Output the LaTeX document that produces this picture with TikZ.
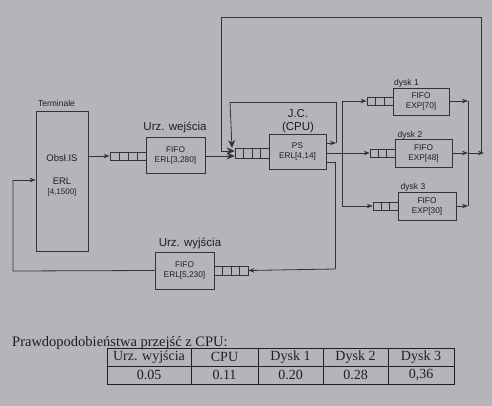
\documentclass[tikz,border=0pt]{standalone}
\usepackage{fontspec}
\setmainfont{Liberation Serif}
\setsansfont{Liberation Sans}
\usetikzlibrary{arrows.meta,calc}
\definecolor{bg}{RGB}{180,181,187}
\definecolor{lc}{RGB}{50,50,57}
\definecolor{tc}{RGB}{30,30,36}
\begin{document}
\begin{tikzpicture}[x=1pt,y=-1pt,
  box/.style={draw=lc, line width=0.8pt, fill=bg, inner sep=0pt, align=center,
    font=\sffamily\fontsize{8.3}{10}\selectfont, text=tc},
  lbl/.style={font=\sffamily\fontsize{11.5}{12.5}\selectfont, text=tc, inner sep=0pt, align=center},
  slbl/.style={font=\sffamily\fontsize{8.5}{10}\selectfont, text=tc, inner sep=0pt},
  ln/.style={draw=lc, line width=0.8pt},
  arr/.style={draw=lc, line width=0.8pt, -{Stealth[length=6pt,width=4.5pt]}},
  bigarr/.style={draw=lc, line width=0.8pt, -{Stealth[length=8pt,width=7pt]}},
  qfour/.style={draw=lc, line width=0.7pt, fill=bg, inner sep=0pt,
    path picture={\foreach \i in {0.25,0.5,0.75}{\draw[lc, line width=0.7pt]
      ($(path picture bounding box.south west)!\i!(path picture bounding box.south east)$) --
      ($(path picture bounding box.north west)!\i!(path picture bounding box.north east)$);}}},
  qthree/.style={draw=lc, line width=0.7pt, fill=bg, inner sep=0pt,
    path picture={\foreach \i in {0.3333,0.6667}{\draw[lc, line width=0.7pt]
      ($(path picture bounding box.south west)!\i!(path picture bounding box.south east)$) --
      ($(path picture bounding box.north west)!\i!(path picture bounding box.north east)$);}}},
  cell/.style={draw=tc, line width=0.8pt, inner sep=0pt, minimum height=18pt,
    font=\fontsize{14}{16}\selectfont, text=tc}
]
\fill[bg] (0,0) rectangle (492,406);
\useasboundingbox (0,0) rectangle (492,406);

% Terminale
\node[box, minimum width=52pt, minimum height=140pt] (term) at (62,181) {};
\node[slbl] (termlbl) at (56.5,103) {Terminale};
\node[font=\sffamily\fontsize{9.5}{11}\selectfont, text=tc, inner sep=0pt] (term1) at (62,158) {Obsł.IS};
\node[font=\sffamily\fontsize{9.5}{11}\selectfont, text=tc, inner sep=0pt] (term2) at (62,181) {ERL};
\node[font=\sffamily\fontsize{8}{10}\selectfont, text=tc, inner sep=0pt] (term3) at (62,192) {[4,1500]};

% Urz. wejscia
\node[qfour, minimum width=36pt, minimum height=8pt] (qwej) at (128,156) {};
\node[box, minimum width=59pt, minimum height=36pt] (wej) at (175.5,155) {FIFO\\ERL[3,280]};
\node[lbl] (wejlbl) at (175,127) {Urz. wejścia};

% CPU
\node[qfour, minimum width=34pt, minimum height=10pt] (qcpu) at (252,153) {};
\node[box, minimum width=57pt, minimum height=35pt] (cpu) at (297.5,151.5) {PS\\ERL[4,14]};
\node[lbl] (cpulbl) at (298,121) {J.C.\\(CPU)};

% Urz. wyjscia
\node[box, minimum width=59pt, minimum height=37pt] (wyj) at (184.5,270.5) {FIFO\\ERL[5,230]};
\node[qfour, minimum width=34pt, minimum height=9pt] (qwyj) at (231,270.5) {};
\node[lbl] (wyjlbl) at (190,243) {Urz. wyjścia};

% Disks
\node[qthree, minimum width=26pt, minimum height=8pt] (qd1) at (380,101) {};
\node[box, minimum width=56pt, minimum height=27pt] (d1) at (421,101.5) {FIFO\\EXP[70]};
\node[slbl] (d1lbl) at (406.5,83) {dysk 1};
\node[qthree, minimum width=25pt, minimum height=8pt] (qd2) at (382.5,153) {};
\node[box, minimum width=57pt, minimum height=28pt] (d2) at (423.5,153) {FIFO\\EXP[48]};
\node[slbl] (d2lbl) at (410,135) {dysk 2};
\node[qthree, minimum width=25pt, minimum height=8pt] (qd3) at (385.5,206) {};
\node[box, minimum width=58pt, minimum height=28pt] (d3) at (427,206) {FIFO\\EXP[30]};
\node[slbl] (d3lbl) at (413,187) {dysk 3};

% helper coordinates
\coordinate (m1) at (468,101);
\coordinate (m2) at (468,153);
\coordinate (m3) at (468,206);
\coordinate (rj) at (484,153);
\coordinate (topR) at (481,17);
\coordinate (topL) at (221,17);
\coordinate (loopin) at (221,151);
\coordinate (wejin) at (205,156);
\coordinate (br) at (342,153);
\coordinate (sl1) at (336,143);
\coordinate (sl2) at (336,102);
\coordinate (sl3) at (230,102);
\coordinate (sl4) at (232,148);
\coordinate (wo1) at (335,162);
\coordinate (wo2) at (335,269);
\coordinate (fb1) at (13,271);
\coordinate (fb2) at (13,180);

% connectors
\draw[arr] (term.east |- qwej.west) -- (qwej.west);
\draw[bigarr] (wejin) -- (wejin -| qcpu.west);
\draw[ln] (m2) -- (topR |- m2) -- (topR) -- (topL) -- (loopin);
\draw[bigarr] (loopin) -- (loopin -| qcpu.west);
\draw[arr] (cpu.east |- sl1) -- (sl1);
\draw[ln] (sl1) -- (sl2) -- (sl3);
\draw[bigarr] (sl3) -- (sl4);
\draw[arr] (cpu.east |- qd2.west) -- (qd2.west);
\draw[ln] (br |- qd1.west) -- (br |- qd3.west);
\draw[arr] (br |- qd1.west) -- (qd1.west);
\draw[arr] (br |- qd3.west) -- (qd3.west);
\draw[arr] (d1.east |- m1) -- (m1);
\draw[arr] (d2.east |- m2) -- (m2);
\draw[arr] (d3.east |- m3) -- (m3);
\draw[ln] (m1) -- (m3);
\draw[arr] (m2) -- (rj);
\draw[ln] (cpu.east |- wo1) -- (wo1) -- (wo2);
\draw[arr] (wo2) -- (qwyj.east);
\draw[ln] (wyj.west) -- (fb1) -- (fb2);
\draw[arr] (fb2) -- (term.west |- fb2);

% table
\node[anchor=west, font=\fontsize{14.5}{16}\selectfont, text=tc, inner sep=0pt] (cap) at (12,343) {Prawdopodobieństwa przejść z CPU:};
\node[cell, minimum width=84pt] (h1) at (149,357) {Urz. wyjścia};
\node[cell, minimum width=67pt] (h2) at (224.5,357) {CPU};
\node[cell, minimum width=65pt] (h3) at (290.5,357) {Dysk 1};
\node[cell, minimum width=65pt] (h4) at (355.5,357) {Dysk 2};
\node[cell, minimum width=66pt] (h5) at (421,357) {Dysk 3};
\node[cell, minimum width=84pt] (v1) at (149,375) {0.05};
\node[cell, minimum width=67pt] (v2) at (224.5,375) {0.11};
\node[cell, minimum width=65pt] (v3) at (290.5,375) {0.20};
\node[cell, minimum width=65pt] (v4) at (355.5,375) {0.28};
\node[cell, minimum width=66pt] (v5) at (421,375) {0,36};
\end{tikzpicture}
\end{document}
